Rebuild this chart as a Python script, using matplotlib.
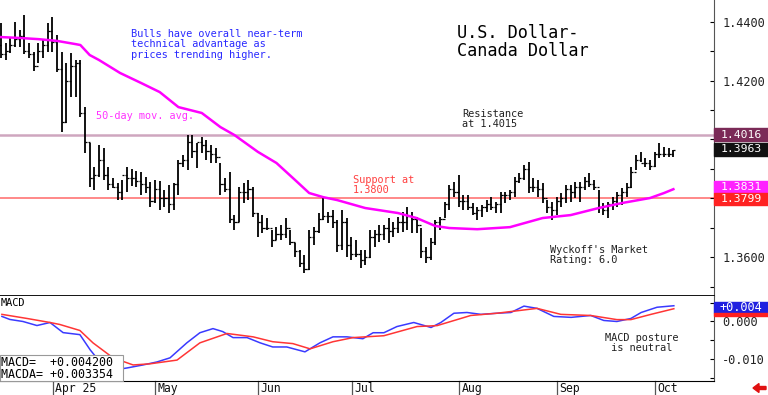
import numpy as np
import matplotlib
matplotlib.use("Agg")
import matplotlib.pyplot as plt
from matplotlib.patches import Rectangle, Polygon
import matplotlib.transforms as mtransforms

plt.rcParams['font.family'] = ['DejaVu Sans Mono']

# daily OHLC bars (index 0 = mid March 2025)
highs = [1.4396, 1.4328, 1.4345, 1.4399, 1.4372, 1.4423, 1.4328, 1.4297, 1.4328, 1.4341,
         1.4396, 1.4416, 1.4355, 1.4297, 1.4260, 1.4294, 1.4270, 1.4270, 1.4110, 1.3988,
         1.3906, 1.3981, 1.3971, 1.3906, 1.3869, 1.3852, 1.3862, 1.3906, 1.3899, 1.3893,
         1.3889, 1.3872, 1.3855, 1.3862, 1.3859, 1.3828, 1.3845, 1.3852, 1.3930, 1.3947,
         1.4015, 1.4015, 1.3988, 1.4008, 1.3998, 1.3981, 1.3971, 1.3920, 1.3869, 1.3889,
         1.3743, 1.3838, 1.3852, 1.3862, 1.3838, 1.3750, 1.3743, 1.3733, 1.3692, 1.3702,
         1.3709, 1.3733, 1.3692, 1.3648, 1.3624, 1.3607, 1.3692, 1.3702, 1.3750, 1.3801,
         1.3753, 1.3760, 1.3726, 1.3760, 1.3733, 1.3668, 1.3658, 1.3624, 1.3624, 1.3692,
         1.3692, 1.3709, 1.3709, 1.3733, 1.3719, 1.3736, 1.3753, 1.3770, 1.3753, 1.3736,
         1.3699, 1.3634, 1.3665, 1.3726, 1.3736, 1.3787, 1.3845, 1.3855, 1.3879, 1.3811,
         1.3811, 1.3784, 1.3770, 1.3777, 1.3794, 1.3804, 1.3787, 1.3821, 1.3821, 1.3828,
         1.3872, 1.3886, 1.3913, 1.3923, 1.3869, 1.3862, 1.3852, 1.3794, 1.3787, 1.3804,
         1.3818, 1.3845, 1.3845, 1.3855, 1.3855, 1.3872, 1.3886, 1.3862, 1.3828, 1.3784,
         1.3787, 1.3804, 1.3821, 1.3835, 1.3852, 1.3906, 1.3947, 1.3957, 1.3937, 1.3930,
         1.3957, 1.3988, 1.3974, 1.3971, 1.3964]
lows = [1.4277, 1.4270, 1.4294, 1.4314, 1.4314, 1.4290, 1.4277, 1.4233, 1.4260, 1.4277,
        1.4297, 1.4297, 1.4229, 1.4025, 1.4056, 1.4144, 1.4144, 1.4076, 1.3954, 1.3838,
        1.3828, 1.3872, 1.3862, 1.3828, 1.3835, 1.3794, 1.3794, 1.3821, 1.3842, 1.3838,
        1.3811, 1.3818, 1.3770, 1.3784, 1.3760, 1.3770, 1.3750, 1.3760, 1.3811, 1.3906,
        1.3896, 1.3937, 1.3903, 1.3954, 1.3930, 1.3920, 1.3920, 1.3811, 1.3821, 1.3716,
        1.3692, 1.3719, 1.3784, 1.3794, 1.3736, 1.3668, 1.3682, 1.3692, 1.3634, 1.3658,
        1.3658, 1.3665, 1.3641, 1.3600, 1.3566, 1.3546, 1.3556, 1.3641, 1.3682, 1.3726,
        1.3716, 1.3699, 1.3617, 1.3624, 1.3600, 1.3590, 1.3600, 1.3563, 1.3573, 1.3597,
        1.3634, 1.3651, 1.3658, 1.3648, 1.3668, 1.3682, 1.3685, 1.3692, 1.3682, 1.3682,
        1.3597, 1.3580, 1.3590, 1.3641, 1.3692, 1.3733, 1.3760, 1.3804, 1.3770, 1.3760,
        1.3760, 1.3743, 1.3726, 1.3736, 1.3753, 1.3760, 1.3750, 1.3750, 1.3784, 1.3794,
        1.3804, 1.3852, 1.3862, 1.3818, 1.3821, 1.3804, 1.3784, 1.3750, 1.3726, 1.3743,
        1.3770, 1.3784, 1.3787, 1.3801, 1.3787, 1.3828, 1.3838, 1.3828, 1.3750, 1.3743,
        1.3733, 1.3760, 1.3770, 1.3777, 1.3804, 1.3835, 1.3896, 1.3923, 1.3906, 1.3896,
        1.3906, 1.3937, 1.3940, 1.3940, 1.3940]
opens = [1.4320, 1.4290, 1.4300, 1.4320, 1.4340, 1.4350, 1.4300, 1.4290, 1.4250, 1.4300,
         1.4320, 1.4370, 1.4330, 1.4240, 1.4060, 1.4200, 1.4250, 1.4260, 1.4090, 1.3990,
         1.3870, 1.3880, 1.3930, 1.3880, 1.3850, 1.3840, 1.3820, 1.3880, 1.3870, 1.3870,
         1.3860, 1.3850, 1.3840, 1.3790, 1.3830, 1.3800, 1.3800, 1.3780, 1.3850, 1.3920,
         1.3930, 1.3990, 1.3960, 1.3990, 1.3980, 1.3960, 1.3950, 1.3940, 1.3850, 1.3830,
         1.3730, 1.3720, 1.3820, 1.3820, 1.3830, 1.3750, 1.3720, 1.3700, 1.3700, 1.3660,
         1.3680, 1.3680, 1.3700, 1.3650, 1.3620, 1.3580, 1.3560, 1.3670, 1.3690, 1.3730,
         1.3740, 1.3740, 1.3720, 1.3640, 1.3720, 1.3640, 1.3610, 1.3610, 1.3590, 1.3600,
         1.3670, 1.3680, 1.3680, 1.3700, 1.3690, 1.3700, 1.3720, 1.3720, 1.3740, 1.3730,
         1.3710, 1.3620, 1.3600, 1.3650, 1.3720, 1.3730, 1.3780, 1.3830, 1.3820, 1.3790,
         1.3790, 1.3770, 1.3750, 1.3760, 1.3770, 1.3780, 1.3770, 1.3780, 1.3810, 1.3810,
         1.3820, 1.3860, 1.3870, 1.3900, 1.3840, 1.3840, 1.3830, 1.3800, 1.3770, 1.3760,
         1.3790, 1.3800, 1.3830, 1.3820, 1.3840, 1.3840, 1.3860, 1.3850, 1.3840, 1.3770,
         1.3760, 1.3780, 1.3790, 1.3810, 1.3820, 1.3840, 1.3890, 1.3930, 1.3920, 1.3920,
         1.3910, 1.3950, 1.3950, 1.3950, 1.3950]
closes = [1.4290, 1.4300, 1.4320, 1.4340, 1.4350, 1.4300, 1.4290, 1.4250, 1.4300, 1.4320,
          1.4370, 1.4330, 1.4240, 1.4060, 1.4200, 1.4250, 1.4260, 1.4090, 1.3990, 1.3870,
          1.3880, 1.3930, 1.3880, 1.3850, 1.3840, 1.3820, 1.3880, 1.3870, 1.3870, 1.3860,
          1.3850, 1.3840, 1.3790, 1.3830, 1.3800, 1.3800, 1.3780, 1.3850, 1.3920, 1.3930,
          1.3990, 1.3960, 1.3990, 1.3980, 1.3960, 1.3950, 1.3940, 1.3850, 1.3830, 1.3730,
          1.3720, 1.3820, 1.3820, 1.3830, 1.3750, 1.3720, 1.3700, 1.3700, 1.3660, 1.3680,
          1.3680, 1.3700, 1.3650, 1.3620, 1.3580, 1.3560, 1.3670, 1.3690, 1.3730, 1.3740,
          1.3740, 1.3720, 1.3640, 1.3720, 1.3640, 1.3610, 1.3610, 1.3590, 1.3600, 1.3670,
          1.3680, 1.3680, 1.3700, 1.3690, 1.3700, 1.3720, 1.3720, 1.3740, 1.3730, 1.3710,
          1.3620, 1.3600, 1.3650, 1.3720, 1.3730, 1.3780, 1.3830, 1.3820, 1.3790, 1.3790,
          1.3770, 1.3750, 1.3760, 1.3770, 1.3780, 1.3770, 1.3780, 1.3810, 1.3810, 1.3820,
          1.3860, 1.3870, 1.3900, 1.3840, 1.3840, 1.3830, 1.3800, 1.3770, 1.3760, 1.3790,
          1.3800, 1.3830, 1.3820, 1.3840, 1.3840, 1.3860, 1.3850, 1.3840, 1.3770, 1.3760,
          1.3780, 1.3790, 1.3810, 1.3820, 1.3840, 1.3890, 1.3930, 1.3920, 1.3920, 1.3910,
          1.3950, 1.3950, 1.3950, 1.3950, 1.3963]

# 50-day moving average, read at sampled bars
ma_x = [0, 4, 8, 12, 16, 17, 19, 21, 25.5, 30, 34, 38, 43, 47, 50, 55, 59, 63, 66, 69,
        72, 78, 85, 89, 93, 96, 102, 109, 116, 122, 128, 133, 139, 142, 144]
ma_y = [1.4348, 1.4345, 1.4341, 1.4335, 1.4324, 1.4321, 1.4287, 1.4270, 1.4226, 1.4192,
        1.4161, 1.4110, 1.4090, 1.4042, 1.4015, 1.3958, 1.3920, 1.3862, 1.3818, 1.3804,
        1.3794, 1.3767, 1.3750, 1.3733, 1.3706, 1.3699, 1.3695, 1.3702, 1.3733, 1.3743,
        1.3767, 1.3784, 1.3801, 1.3818, 1.3831]

# MACD (blue) and signal (red)
macd_x = [0.2, 1.9, 4.7, 7.7, 10.5, 13.3, 16.9, 19.1, 21.2, 24, 27, 30.4, 33.4, 36.2,
          39.8, 42.6, 45.4, 47.5, 49.7, 52.7, 55.5, 58.2, 61.2, 65.1, 68.3, 71.1, 74.1,
          77.5, 79.7, 82, 84.8, 88.4, 92.1, 94.2, 97, 99.8, 102.8, 106.2, 109.2, 112,
          114.8, 118.4, 122.1, 126.3, 129.1, 131.9, 134.9, 137.1, 140.5, 144.1]
macd_v = [0.00135, 0.00054, 0.0, -0.00108, -0.00027, -0.00297, -0.00351, -0.00756, -0.0108,
          -0.0130, -0.0124, -0.0116, -0.0108, -0.0097, -0.0057, -0.0030, -0.0019, -0.0027,
          -0.0043, -0.0043, -0.0057, -0.0068, -0.0068, -0.0081, -0.0057, -0.0041, -0.0041,
          -0.0046, -0.0030, -0.0030, -0.00135, -0.00027, -0.0016, -0.00027, 0.0022, 0.0024,
          0.0019, 0.0022, 0.0024, 0.0041, 0.0035, 0.00135, 0.0011, 0.0016, 0.00027, 0.0,
          0.0008, 0.0024, 0.0038, 0.0042]
sig_x = [0.2, 5.6, 10.5, 12.6, 16.9, 19.7, 24, 28.3, 31.9, 37.7, 42.6, 48.4, 54, 58.2,
         62.5, 66.2, 71.1, 75.4, 82, 89.1, 93.4, 100.6, 106.2, 114.8, 119.9, 126.3, 131.9,
         134.9, 139.2, 144.1]
sig_v = [0.0019, 0.0008, -0.00027, -0.0008, -0.0024, -0.0057, -0.0097, -0.0116, -0.0113,
         -0.0103, -0.0057, -0.0032, -0.0041, -0.0054, -0.0059, -0.0073, -0.0054, -0.0043,
         -0.0038, -0.00135, -0.0011, 0.0016, 0.0022, 0.0035, 0.0019, 0.0016, 0.0005,
         0.0005, 0.0019, 0.0034]

month_pos = [11.1, 33.0, 55.0, 75.2, 98.1, 119.1, 140.1]
month_labels = ['Apr 25', 'May', 'Jun', 'Jul', 'Aug', 'Sep', 'Oct']

resistance = 1.4016
support = 1.3800

W, H = 768, 395
fig = plt.figure(figsize=(W / 100, H / 100), dpi=100)


def fx(px):
    return px / W


def fy(py):
    return 1 - py / H


ax = fig.add_axes([0, fy(296), fx(714), 296 / H])
ax2 = fig.add_axes([0, fy(380.7), fx(714), 84.7 / H])

xlim = (-0.21, 152.7)

# price bars
x = np.arange(len(highs))
ax.vlines(x, lows, highs, color='black', lw=1.3, zorder=3)
ax.hlines(opens, x - 0.45, x, color='black', lw=0.9, zorder=3)
ax.hlines(closes, x, x + 0.45, color='black', lw=0.9, zorder=3)

ax.plot(ma_x, ma_y, color='#ff00ff', lw=1.8, zorder=4)
ax.axhline(resistance, color='#cfa6bf', lw=1.8, zorder=1)
ax.axhline(support, color='#ff7f7f', lw=1.3, zorder=1)

ax.set_xlim(*xlim)
ax.set_ylim(1.3468, 1.4474)
ax.yaxis.tick_right()
# 1.4000 and 1.3800 are hidden behind the value boxes in the original
ax.set_yticks([1.44, 1.42, 1.36])
ax.set_yticklabels(['1.4400', '1.4200', '1.3600'])
ax.set_yticks([1.43, 1.41, 1.40, 1.39, 1.38, 1.37, 1.35], minor=True)
ax.tick_params(axis='y', which='both', direction='in', length=3, width=0.8,
               labelsize=8.6, labelcolor='#222222', pad=6)
ax.set_xticks([])
for s in ['top', 'left']:
    ax.spines[s].set_visible(False)
ax.spines['bottom'].set_linewidth(1.3)
ax.spines['right'].set_color('#555555')

# price boxes on the right axis
boxes = [(128, 141, '#7b2a57', '1.4016'),
         (143, 156, '#111111', '1.3963'),
         (181, 193, '#ff22ff', '1.3831'),
         (193, 205, '#ff2222', '1.3799')]
for top, bot, col, lab in boxes:
    fig.patches.append(Rectangle((fx(714), fy(bot)), fx(54), (bot - top) / H,
                                 transform=fig.transFigure, color=col, zorder=5))
    fig.text(fx(741), fy((top + bot) / 2), lab, color='white', fontsize=8.2,
             ha='center', va='center', zorder=6)

# MACD panel
ax2.plot(macd_x, macd_v, color='#3a3aff', lw=1.1)
ax2.plot(sig_x, sig_v, color='#ff3535', lw=1.1)
ax2.set_xlim(*xlim)
ax2.set_ylim(-0.0158, 0.0068)
ax2.yaxis.tick_right()
ax2.set_yticks([0.0, -0.01])
ax2.set_yticklabels(['0.000', '-0.010'])
ax2.set_yticks([0.005, -0.005, -0.015], minor=True)
ax2.tick_params(axis='y', which='both', direction='in', length=3, width=0.8,
                labelsize=8.6, labelcolor='#222222', pad=6)
ax2.set_xticks([])
for s in ['top', 'left']:
    ax2.spines[s].set_visible(False)
ax2.spines['right'].set_color('#555555')

fig.patches.append(Rectangle((fx(714), fy(313)), fx(54), 11 / H,
                             transform=fig.transFigure, color='#2020e0', zorder=5))
fig.patches.append(Rectangle((fx(714), fy(316)), fx(54), 3 / H,
                             transform=fig.transFigure, color='#ff2020', zorder=5))
fig.text(fx(741), fy(307.5), '+0.004', color='white', fontsize=8.6,
         ha='center', va='center', zorder=6)

# MACD value box
fig.patches.append(Rectangle((0, fy(381)), fx(123), 26 / H, transform=fig.transFigure,
                             facecolor='white', edgecolor='#999999', lw=0.8, zorder=5))
fig.text(fx(1), fy(362.5), 'MACD=  +0.004200', fontsize=8.4, va='center', zorder=6)
fig.text(fx(1), fy(374.5), 'MACDA= +0.003354', fontsize=8.4, va='center', zorder=6)

# month labels and dividers below the MACD panel
trans = mtransforms.blended_transform_factory(ax2.transData, ax2.transAxes)
for pos, lab in zip(month_pos, month_labels):
    ax2.plot([pos, pos], [0, -0.17], color='#555555', lw=0.9, transform=trans,
             clip_on=False)
    ax2.text(pos + 0.5, -0.09, lab, transform=trans, fontsize=8.3, ha='left',
             va='center', color='#111111')

# annotations
fig.text(fx(131), fy(29), 'Bulls have overall near-term\ntechnical advantage as\n'
         'prices trending higher.', color='#2a2aff', fontsize=7.4, va='top',
         linespacing=1.05)
fig.text(fx(457), fy(24), 'U.S. Dollar-\nCanada Dollar', color='black', fontsize=12.2,
         va='top', linespacing=1.0)
fig.text(fx(462), fy(109), 'Resistance\nat 1.4015', color='#222222', fontsize=7.4,
         va='top', linespacing=1.05)
fig.text(fx(96), fy(111), '50-day mov. avg.', color='#ff33ff', fontsize=7.4, va='top')
fig.text(fx(353), fy(175), 'Support at\n1.3800', color='#ff4040', fontsize=7.4,
         va='top', linespacing=1.05)
fig.text(fx(550), fy(245), "Wyckoff's Market\nRating: 6.0", color='#222222',
         fontsize=7.4, va='top', linespacing=1.05)
fig.text(fx(1), fy(298), 'MACD', color='black', fontsize=7.4, va='top')
fig.text(fx(605), fy(333), 'MACD posture\n is neutral', color='#222222', fontsize=7.4,
         va='top', linespacing=1.05)

# small red arrow in the bottom right corner
arrow = [(753, 388), (759, 383.5), (759, 386.5), (766, 386.5), (766, 389.5),
         (759, 389.5), (759, 392.5)]
fig.patches.append(Polygon([(fx(px), fy(py)) for px, py in arrow], closed=True,
                           transform=fig.transFigure, color='#e01010', zorder=5))

fig.savefig('out.png', dpi=100, facecolor='white')
